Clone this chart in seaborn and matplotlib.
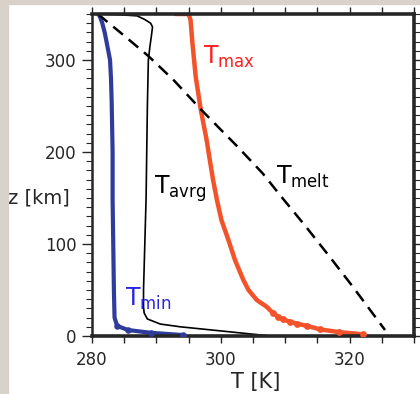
import numpy as np
import pandas as pd
import matplotlib
matplotlib.use("Agg")
import matplotlib.pyplot as plt
import seaborn as sns
from matplotlib.patches import Rectangle
from matplotlib.ticker import MultipleLocator, FuncFormatter

# ---- data ----
tmin_T = [281.0, 281.3, 281.6, 282.0, 282.5, 282.8, 282.95, 283.05, 283.2, 283.2, 283.3, 283.4, 283.5,
          283.9, 285.6, 289.1, 294.2]
tmin_z = [350, 346, 340, 329, 311, 300, 280, 256, 200, 148, 100, 50, 20,
          11, 6.5, 3.5, 1.0]

tavg_T = [281.0, 284.0, 287.0, 288.2, 289.1, 289.4, 289.2, 289.0, 288.75, 288.6, 288.5, 288.4, 288.2,
          288.0, 288.0, 288.1, 288.6, 290.6, 293.7, 296.1, 302.7, 306.5, 307.3]
tavg_z = [350, 349.3, 348, 344, 340, 336, 325, 315, 300, 250, 200, 150, 100,
          50, 31.5, 25, 18.5, 13, 10, 8.3, 3.6, 0.9, 0.4]

tmax_T = [293.0, 295.0, 295.3, 295.6, 296.1, 296.9, 297.8, 298.3, 298.8, 299.4, 300.1, 301.2, 302.2,
          303.5, 304.3, 305.6, 307.1, 308.1, 308.9, 309.6, 310.7, 311.9, 313.4, 315.4, 318.3, 322.1]
tmax_z = [350, 350, 343.5, 318, 282, 245.6, 213, 191, 169.6, 147.8, 126, 104, 82.6,
          60.9, 50, 39, 31.9, 25, 21, 18.1, 15.6, 13.3, 11, 7.2, 4.3, 1.8]

tmelt_T = [280.9, 284.9, 288.8, 292.7, 297.0, 302.6, 306.5, 309.4, 313.0, 316.7, 320.3, 325.5]
tmelt_z = [350, 327, 304, 278, 245.6, 205.8, 176.8, 151.4, 120.7, 88, 55.4, 6.5]

x_major = [280, 300, 320]
y_major = [0, 100, 200, 300]

# number of near-surface samples drawn with visible dots
n_dots_min = 4
n_dots_max = 9

# ---- style ----
sns.set_style("ticks")
plt.rcParams["font.family"] = ["DejaVu Sans"]
plt.rcParams["mathtext.fontset"] = "dejavusans"

W, H = 420, 394
fig = plt.figure(figsize=(W / 100, H / 100), dpi=100, facecolor="white")
grey = "#d8d2ca"
fig.patches.append(Rectangle((0, 0), 8 / W, 1, transform=fig.transFigure, color=grey, zorder=0))
fig.patches.append(Rectangle((0, 1 - 4 / H), 1, 4 / H, transform=fig.transFigure, color=grey, zorder=0))

ax = fig.add_axes([92 / W, 58 / H, 322 / W, 322 / H])
ax.set_facecolor("white")

blue = "#2f3c9c"
red = "#f3522a"

sns.lineplot(x=tmin_T, y=tmin_z, sort=False, estimator=None, ax=ax, color=blue, lw=3.0)
sns.scatterplot(x=tmin_T[-n_dots_min:], y=tmin_z[-n_dots_min:], ax=ax, color=blue, s=22,
                linewidth=0, zorder=3)
sns.lineplot(x=tmax_T, y=tmax_z, sort=False, estimator=None, ax=ax, color=red, lw=3.2)
sns.scatterplot(x=tmax_T[-n_dots_max:], y=tmax_z[-n_dots_max:], ax=ax, color=red, s=24,
                linewidth=0, zorder=3)
sns.lineplot(x=tavg_T, y=tavg_z, sort=False, estimator=None, ax=ax, color="black", lw=1.2)
sns.lineplot(x=tmelt_T, y=tmelt_z, sort=False, estimator=None, ax=ax, color="black", lw=1.8,
             linestyle=(0, (5, 3)))

ax.set_xlim(280, 330)
ax.set_ylim(0, 350)

ax.xaxis.set_major_locator(MultipleLocator(5))
ax.xaxis.set_major_formatter(FuncFormatter(lambda v, p: f"{v:.0f}" if int(round(v)) in x_major else ""))
ax.set_yticks(y_major)
ax.yaxis.set_minor_locator(MultipleLocator(10))

ax.tick_params(axis="x", which="major", direction="out", length=5, width=1.0, top=True,
               bottom=True, labelsize=12, pad=6)
ax.tick_params(axis="y", which="major", direction="out", length=7, width=1.0, left=True,
               right=True, labelsize=12, pad=4)
ax.tick_params(axis="y", which="minor", direction="out", length=4, width=0.8, left=True, right=True)

for side in ["top", "right", "bottom"]:
    ax.spines[side].set_linewidth(2.6)
    ax.spines[side].set_visible(True)
ax.spines["left"].set_linewidth(1.8)

ax.set_xlabel("T [K]", fontsize=15)
ax.xaxis.set_label_coords((256 - 92) / 322, (336 - 382) / 322)
ax.xaxis.label.set_va("center")
ax.set_ylabel("z [km]", fontsize=14, rotation=0, ha="left", va="center")
ax.yaxis.set_label_coords((8 - 92) / 322, (336 - 198) / 322)

ax.text(297.3, 303, r"T$_{\rm max}$", color="#ff2020", fontsize=17, ha="left", va="center")
ax.text(289.7, 160, r"T$_{\rm avrg}$", color="black", fontsize=17, ha="left", va="center")
ax.text(308.6, 173, r"T$_{\rm melt}$", color="black", fontsize=17, ha="left", va="center")
ax.text(285.2, 40, r"T$_{\rm min}$", color="#2727e0", fontsize=17, ha="left", va="center")

fig.savefig("out.png", dpi=100, facecolor=fig.get_facecolor())
